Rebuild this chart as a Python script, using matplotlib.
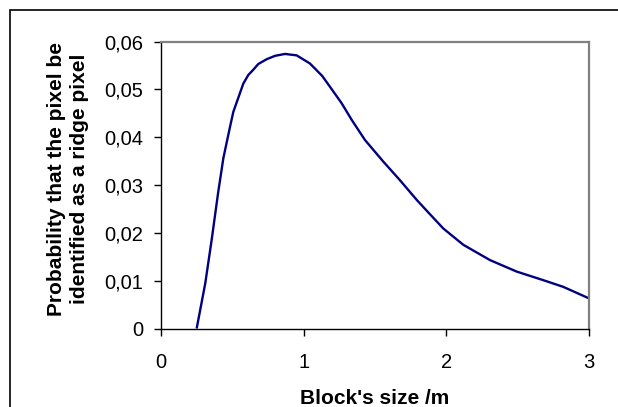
import matplotlib

matplotlib.use("Agg")
import matplotlib.pyplot as plt
from matplotlib.patches import Rectangle

# Curve (block size in m -> probability)
block_size = [0.25, 0.31, 0.355, 0.40, 0.437, 0.479, 0.507, 0.577, 0.612,
              0.647, 0.682, 0.741, 0.799, 0.869, 0.951, 1.044, 1.13, 1.19,
              1.266, 1.337, 1.43, 1.558, 1.675, 1.792, 1.885, 1.979, 2.119,
              2.306, 2.493, 2.68, 2.82, 3.0]
probability = [0.0, 0.0094, 0.0185, 0.0283, 0.0356, 0.0415, 0.0453, 0.0512,
               0.0530, 0.0541, 0.0553, 0.0563, 0.0570, 0.0574, 0.0571, 0.0554,
               0.0528, 0.0503, 0.0471, 0.0436, 0.0394, 0.0349, 0.0310, 0.0269,
               0.0239, 0.0209, 0.0175, 0.0143, 0.0119, 0.0101, 0.0087, 0.0063]

x_ticks = [0, 1, 2, 3]
y_ticks = [0.0, 0.01, 0.02, 0.03, 0.04, 0.05, 0.06]
y_tick_labels = ["0", "0,01", "0,02", "0,03", "0,04", "0,05", "0,06"]

plt.rcParams["font.family"] = ["Liberation Sans", "DejaVu Sans"]

W, H = 618, 407
fig = plt.figure(figsize=(W / 100, H / 100), dpi=100)

# outer chart border (Excel chart area), runs off the right and bottom edges
fig.patches.append(
    Rectangle((10 / W, -0.5), 2.0, 1.5 - 10 / H, transform=fig.transFigure,
              fill=False, edgecolor="black", linewidth=1.2)
)

ax = fig.add_axes([161 / W, 1 - 328.5 / H, (589 - 161) / W, (328.5 - 41.5) / H])
ax.plot(block_size, probability, color="#000080", linewidth=1.7,
        solid_joinstyle="round", solid_capstyle="butt", clip_on=False)

ax.set_xlim(0, 3)
ax.set_ylim(0, 0.06)
ax.set_xticks(x_ticks)
ax.set_xticklabels([str(t) for t in x_ticks])
ax.set_yticks(y_ticks)
ax.set_yticklabels(y_tick_labels)
ax.tick_params(axis="both", direction="out", length=5, width=1,
               color="black", labelsize=14.5)
ax.tick_params(axis="x", pad=13)
ax.tick_params(axis="y", pad=8)

for side in ("left", "bottom"):
    ax.spines[side].set_color("black")
    ax.spines[side].set_linewidth(1.0)
for side in ("top", "right"):
    ax.spines[side].set_color("#808080")
    ax.spines[side].set_linewidth(1.6)

fig.text(375 / W, 1 - 398 / H, "Block's size /m", ha="center", va="center",
         fontsize=15, fontweight="bold")
fig.text(68 / W, 1 - 179 / H,
         "Probability that the pixel be\nidentified as a ridge pixel",
         ha="center", va="center", rotation=90, fontsize=15,
         fontweight="bold", linespacing=1.25, multialignment="center")

fig.savefig("out.png", dpi=100)
